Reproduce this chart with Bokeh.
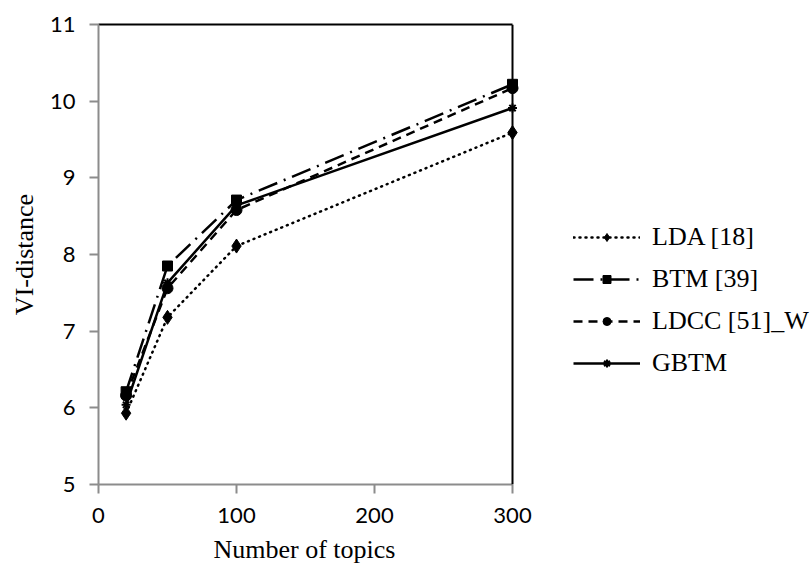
from bokeh.plotting import figure
from bokeh.models import Range1d, FixedTicker, Legend, LegendItem, LinearAxis, Span, Title
from bokeh.embed import file_html
from bokeh.resources import INLINE

topics = [20, 50, 100, 300]
lda = [5.93, 7.18, 8.11, 9.59]
btm = [6.21, 7.85, 8.71, 10.22]
ldcc = [6.16, 7.56, 8.58, 10.17]
gbtm = [6.04, 7.63, 8.64, 9.91]

x_ticks = [0, 100, 200, 300]
y_ticks = [5, 6, 7, 8, 9, 10, 11]

# layout (pixels): plot area 98..512 horizontally; frame extended to page edge for legend room
W, H = 811, 571
LEFT, AREA_W = 98, 414
x_end = 300 * (W - LEFT) / AREA_W

p = figure(width=W, height=H, output_backend="svg", toolbar_location=None,
           x_range=Range1d(0, x_end), y_range=Range1d(5, 11),
           min_border_left=LEFT, min_border_right=0, min_border_top=24, min_border_bottom=86)
p.xgrid.visible = False
p.ygrid.visible = False
p.outline_line_color = None
p.background_fill_color = "white"
p.border_fill_color = "white"

for ax in (p.xaxis[0], p.yaxis[0]):
    ax.axis_line_color = "#8c8c8c"
    ax.axis_line_width = 2
    ax.major_tick_line_color = "#8c8c8c"
    ax.major_tick_line_width = 2
    ax.major_tick_in = 0
    ax.major_tick_out = 9
    ax.minor_tick_line_color = None
    ax.major_label_text_font = "Lato"
    ax.major_label_text_font_size = "22px"
    ax.major_label_text_color = "black"
    ax.axis_label_text_font = "Liberation Serif"
    ax.axis_label_text_font_size = "26px"
    ax.axis_label_text_font_style = "normal"
    ax.axis_label_text_color = "black"

p.xaxis[0].ticker = FixedTicker(ticks=x_ticks)
p.xaxis[0].bounds = (0, 300)
p.yaxis[0].ticker = FixedTicker(ticks=y_ticks)
p.yaxis[0].axis_label = "VI-distance"
p.xaxis[0].major_label_standoff = 14
p.yaxis[0].major_label_standoff = 14
p.yaxis[0].axis_label_standoff = 8

# x-axis title, centred under the plot area (0..300)
xtitle = Title(text="Number of topics", align="left", offset=115, standoff=15,
               text_font="Liberation Serif", text_font_size="26px",
               text_font_style="normal", text_color="black")
p.add_layout(xtitle, "below")

# black plot-area border on top and right
top_axis = LinearAxis(bounds=(0, 300), ticker=FixedTicker(ticks=[]),
                      axis_line_color="black", axis_line_width=2,
                      major_tick_line_color=None, minor_tick_line_color=None)
p.add_layout(top_axis, "above")
p.add_layout(Span(location=300, dimension="height", line_color="black", line_width=2))

lw = 2.5
l1 = p.line(topics, lda, line_color="black", line_width=lw, line_dash="1 5", line_cap="round")
m1 = p.scatter(topics, lda, marker="diamond", size=14, color="black")
l2 = p.line(topics, btm, line_color="black", line_width=lw, line_dash="20 7 2 7")
m2 = p.scatter(topics, btm, marker="square", size=10, color="black")
l3 = p.line(topics, ldcc, line_color="black", line_width=lw, line_dash="9 6")
m3 = p.scatter(topics, ldcc, marker="circle", size=11, color="black")
l4 = p.line(topics, gbtm, line_color="black", line_width=lw)
m4 = p.scatter(topics, gbtm, marker="asterisk", size=9, line_color="black", line_width=2)

legend = Legend(items=[
    LegendItem(label="LDA [18]", renderers=[l1, m1]),
    LegendItem(label="BTM [39]", renderers=[l2, m2]),
    LegendItem(label="LDCC [51]_W", renderers=[l3, m3]),
    LegendItem(label="GBTM", renderers=[l4, m4]),
], location=(475, 106))
legend.label_text_font = "Liberation Serif"
legend.label_text_font_size = "26px"
legend.label_text_color = "black"
legend.glyph_width = 67
legend.glyph_height = 20
legend.label_standoff = 12
legend.spacing = 12
legend.padding = 0
legend.margin = 0
legend.border_line_alpha = 0
legend.background_fill_alpha = 0
p.add_layout(legend, "center")

open("out.html", "w").write(file_html(p, INLINE))
